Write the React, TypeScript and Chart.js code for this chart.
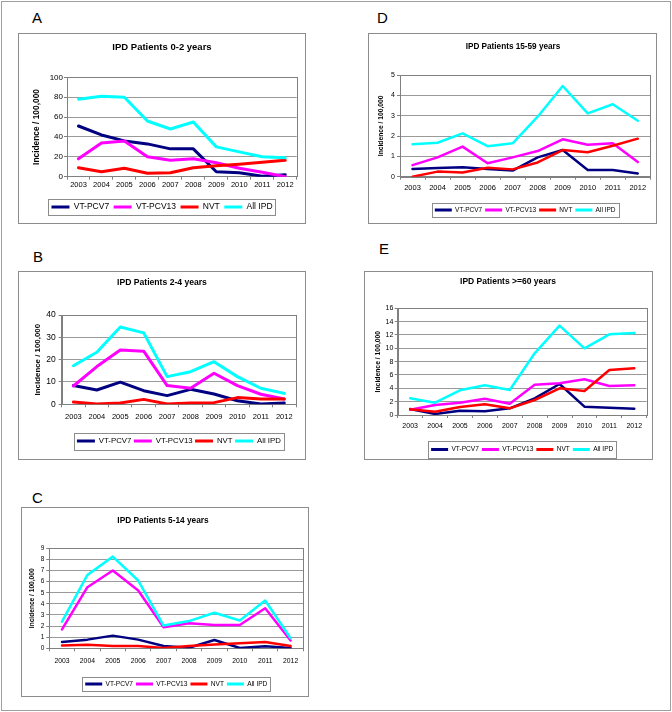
import React, { useEffect, useRef } from "react";
import { Chart, registerables } from "chart.js";

Chart.register(...registerables);

// ---------- data ----------
const YEARS = ["2003", "2004", "2005", "2006", "2007", "2008", "2009", "2010", "2011", "2012"];
const SERIES_NAMES = ["VT-PCV7", "VT-PCV13", "NVT", "All IPD"];
const SERIES_COLORS = ["#000080", "#FF00FF", "#FF0000", "#00FFFF"];
const Y_TITLE = "Incidence / 100,000";

// A: 0-2 years
const A_PCV7 = [51, 42, 36, 33, 28, 28, 5, 4, 0.5, 2];
const A_PCV13 = [18, 34, 36, 20, 16.5, 18, 14, 8.5, 4.5, 0];
const A_NVT = [9, 5, 8.5, 3.5, 4, 9, 11, 12.5, 14.5, 16.5];
const A_ALL = [78, 81, 80, 56, 48, 55, 30, 25, 20, 19];
const A_YTICKS = [0, 20, 40, 60, 80, 100];

// B: 2-4 years
const B_PCV7 = [8.4, 6.4, 9.9, 6.1, 3.9, 6.7, 4.6, 1.6, 0.15, 0.6];
const B_PCV13 = [8.2, 16.9, 24.3, 23.8, 8.4, 7.2, 13.9, 8.4, 4.5, 2.4];
const B_NVT = [1.0, 0.15, 0.6, 2.2, 0.15, 0.6, 0.75, 3.0, 2.4, 2.4];
const B_ALL = [17.3, 23.3, 34.6, 32, 12.4, 14.6, 19.1, 12.4, 7.2, 4.9];
const B_YTICKS = [0, 10, 20, 30, 40];

// C: 5-14 years
const C_PCV7 = [0.57, 0.78, 1.14, 0.78, 0.2, 0.05, 0.75, 0.03, 0.18, 0.03];
const C_PCV13 = [1.7, 5.5, 7.0, 5.2, 1.9, 2.25, 2.1, 2.1, 3.6, 0.7];
const C_NVT = [0.25, 0.33, 0.2, 0.2, 0.03, 0.2, 0.35, 0.45, 0.57, 0.2];
const C_ALL = [2.4, 6.6, 8.25, 6.1, 2.05, 2.45, 3.2, 2.5, 4.3, 0.9];
const C_YTICKS = [0, 1, 2, 3, 4, 5, 6, 7, 8, 9];

// D: 15-59 years
const D_PCV7 = [0.38, 0.43, 0.46, 0.38, 0.3, 0.95, 1.31, 0.33, 0.33, 0.16];
const D_PCV13 = [0.57, 0.95, 1.48, 0.66, 0.95, 1.26, 1.84, 1.57, 1.64, 0.72];
const D_NVT = [0.0, 0.25, 0.21, 0.44, 0.36, 0.7, 1.31, 1.2, 1.52, 1.87];
const D_ALL = [1.6, 1.67, 2.13, 1.5, 1.64, 2.95, 4.46, 3.11, 3.56, 2.75];
const D_YTICKS = [0, 1, 2, 3, 4, 5];

// E: >=60 years
const E_PCV7 = [0.9, 0.15, 0.65, 0.55, 1.0, 2.5, 4.65, 1.25, 1.1, 0.95];
const E_PCV13 = [0.8, 1.5, 1.85, 2.45, 1.7, 4.55, 4.75, 5.35, 4.35, 4.45];
const E_NVT = [0.85, 0.5, 1.2, 1.6, 1.0, 2.25, 4.0, 3.6, 6.75, 7.0];
const E_ALL = [2.5, 1.85, 3.7, 4.45, 3.75, 9.25, 13.4, 10, 12.1, 12.3];
const E_YTICKS = [0, 2, 4, 6, 8, 10, 12, 14, 16];

// ---------- layout ----------
const FONT = "'Liberation Sans', Arial, sans-serif";
const GRID = "#9a9a9a";
const AXIS = "#808080";
const FRAME = "#8c8c8c";
const EXTRA = 14;

type Cfg = {
  letter: string; letterX: number; letterY: number;
  box: number[]; plot: number[];
  title: string; titleY: number; titleCx: number; titleSize: number;
  yTitleX: number; yTitleSize: number;
  yTickSize: number; yTickPad: number;
  xTickSize: number; xTickPad: number;
  legendY: number; legendSize: number; legendPad: number; legendLine: number; legendFull: boolean; legendBoxH: number;
  lineWidth: number;
  yTicks: number[];
  series: number[][];
};

const PANELS: Cfg[] = [
  {
    letter: "A", letterX: 32, letterY: 12,
    box: [18, 33, 288, 191], plot: [67, 77.3, 296.7, 176.7],
    title: "IPD Patients 0-2 years", titleY: 47, titleCx: 162, titleSize: 9.5,
    yTitleX: 37, yTitleSize: 8.4, yTickSize: 8, yTickPad: 1, xTickSize: 7.5, xTickPad: 1,
    legendY: 207, legendSize: 8.5, legendPad: 4.5, legendLine: 18, legendFull: true, legendBoxH: 16,
    lineWidth: 3, yTicks: A_YTICKS, series: [A_PCV7, A_PCV13, A_NVT, A_ALL],
  },
  {
    letter: "B", letterX: 33, letterY: 251,
    box: [18, 271, 288, 189], plot: [61.7, 315, 296, 404.3],
    title: "IPD Patients 2-4 years", titleY: 283, titleCx: 162, titleSize: 8.6,
    yTitleX: 38, yTitleSize: 7.9, yTickSize: 8.5, yTickPad: 3, xTickSize: 7.5, xTickPad: 5.5,
    legendY: 441, legendSize: 7.8, legendPad: 2.5, legendLine: 18, legendFull: false, legendBoxH: 17,
    lineWidth: 3, yTicks: B_YTICKS, series: [B_PCV7, B_PCV13, B_NVT, B_ALL],
  },
  {
    letter: "C", letterX: 32, letterY: 492,
    box: [21, 507, 288, 190], plot: [49.3, 548.3, 303.3, 648.3],
    title: "IPD Patients 5-14 years", titleY: 521, titleCx: 163, titleSize: 8.3,
    yTitleX: 32, yTitleSize: 6.6, yTickSize: 6.5, yTickPad: 2, xTickSize: 6.8, xTickPad: 5.5,
    legendY: 684, legendSize: 6.6, legendPad: 3, legendLine: 17, legendFull: false, legendBoxH: 14,
    lineWidth: 2.5, yTicks: C_YTICKS, series: [C_PCV7, C_PCV13, C_NVT, C_ALL],
  },
  {
    letter: "D", letterX: 377, letterY: 12,
    box: [368, 33, 289, 191], plot: [400, 75, 650.3, 176.7],
    title: "IPD Patients 15-59 years", titleY: 47, titleCx: 513, titleSize: 8.2,
    yTitleX: 381, yTitleSize: 6.7, yTickSize: 7, yTickPad: 2, xTickSize: 7.5, xTickPad: 4,
    legendY: 210, legendSize: 6.5, legendPad: 3, legendLine: 17, legendFull: false, legendBoxH: 14,
    lineWidth: 2.5, yTicks: D_YTICKS, series: [D_PCV7, D_PCV13, D_NVT, D_ALL],
  },
  {
    letter: "E", letterX: 379, letterY: 243,
    box: [364, 271, 289, 189], plot: [397.7, 308.3, 646.7, 415],
    title: "IPD Patients >=60 years", titleY: 282, titleCx: 508, titleSize: 8.5,
    yTitleX: 378, yTitleSize: 6.8, yTickSize: 7, yTickPad: 1.3, xTickSize: 7, xTickPad: 4,
    legendY: 449.5, legendSize: 6.6, legendPad: 3, legendLine: 17, legendFull: false, legendBoxH: 17,
    lineWidth: 2.5, yTicks: E_YTICKS, series: [E_PCV7, E_PCV13, E_NVT, E_ALL],
  },
];

function Panel({ c }: { c: Cfg }) {
  const ref = useRef<HTMLCanvasElement | null>(null);
  const [bx, by, bw, bh] = c.box;
  const H = bh + EXTRA;

  useEffect(() => {
    if (!ref.current) return;
    const [pl, pt, pr, pb] = c.plot;
    const L = pl - bx, T = pt - by, R = bx + bw - pr, B = pb - by;
    const tLH = c.titleSize * 1.2;
    const tPadTop = c.titleY - by - tLH / 2;
    const tPadBottom = T - tPadTop - tLH;
    const padL = Math.max(0, Math.min(L - 10, 2 * (c.titleCx - bx) - bw + R));
    const yAxisW = L - padL;
    const yLH = c.yTitleSize * 1.2;
    const yTitlePad = Math.max(0, c.yTitleX - bx - padL - yLH / 2);
    const F = c.legendSize, P = c.legendPad;
    const Hx = c.legendY - by - B - P - F / 2;
    const legendH = F + P + 10;
    const padB = Math.max(0, H - B - Hx - legendH);
    const yt = c.yTicks;

    const decor = {
      id: "decor",
      beforeDraw(chart: any) {
        const ctx = chart.ctx;
        ctx.save();
        ctx.strokeStyle = FRAME;
        ctx.lineWidth = 1;
        ctx.strokeRect(0.5, 0.5, bw - 1, bh - 1);
        ctx.restore();
      },
      beforeDatasetsDraw(chart: any) {
        const a = chart.chartArea;
        const ctx = chart.ctx;
        ctx.save();
        ctx.strokeStyle = AXIS;
        ctx.lineWidth = 1;
        ctx.strokeRect(Math.round(a.left) + 0.5, Math.round(a.top) + 0.5, Math.round(a.right - a.left), Math.round(a.bottom - a.top));
        ctx.restore();
      },
      afterDraw(chart: any) {
        const lg = chart.legend;
        if (!lg || !lg.legendHitBoxes || !lg.legendHitBoxes.length) return;
        const hb = lg.legendHitBoxes;
        const left = Math.min(...hb.map((h: any) => h.left)) - 3;
        const right = Math.max(...hb.map((h: any) => h.left + h.width)) + 3;
        const cy = hb[0].top + hb[0].height / 2;
        const ctx = chart.ctx;
        ctx.save();
        ctx.strokeStyle = FRAME;
        ctx.lineWidth = 1;
        ctx.strokeRect(Math.round(left) + 0.5, Math.round(cy - c.legendBoxH / 2) + 0.5, Math.round(right - left), c.legendBoxH);
        ctx.restore();
      },
    };

    const chart = new Chart(ref.current, {
      type: "line",
      data: {
        labels: YEARS,
        datasets: SERIES_NAMES.map((name, i) => ({
          label: name,
          data: c.series[i],
          borderColor: SERIES_COLORS[i],
          backgroundColor: SERIES_COLORS[i],
          borderWidth: c.lineWidth,
          pointRadius: 0,
          pointHoverRadius: 0,
          tension: 0,
          fill: false,
          borderJoinStyle: "round" as const,
          borderCapStyle: "round" as const,
          order: 4 - i,
        })),
      },
      options: {
        animation: false,
        responsive: false,
        devicePixelRatio: 1,
        events: [],
        layout: { padding: { left: padL, right: R, top: 0, bottom: padB } },
        plugins: {
          tooltip: { enabled: false },
          title: {
            display: true,
            text: c.title,
            color: "#000",
            font: { family: FONT, size: c.titleSize, weight: "bold" },
            padding: { top: tPadTop, bottom: tPadBottom },
          },
          legend: {
            display: true,
            position: "bottom",
            fullSize: c.legendFull,
            labels: {
              boxWidth: c.legendLine,
              boxHeight: 3,
              padding: P,
              color: "#000",
              font: { family: FONT, size: F },
              generateLabels: (ch: any) =>
                ch.data.datasets.map((d: any, i: number) => ({
                  text: d.label,
                  fillStyle: d.borderColor,
                  strokeStyle: d.borderColor,
                  lineWidth: 0,
                  hidden: false,
                  datasetIndex: i,
                })),
            },
          },
        },
        scales: {
          x: {
            type: "category",
            offset: true,
            grid: { display: true, drawOnChartArea: false, drawTicks: true, tickLength: 3, offset: true, color: AXIS },
            border: { display: true, color: AXIS },
            ticks: { color: "#000", font: { family: FONT, size: c.xTickSize }, padding: c.xTickPad, maxRotation: 0, minRotation: 0, autoSkip: false },
            afterFit: (s: any) => { s.height = Hx; },
          },
          y: {
            min: yt[0],
            max: yt[yt.length - 1],
            ticks: { stepSize: yt[1] - yt[0], color: "#000", font: { family: FONT, size: c.yTickSize }, padding: c.yTickPad },
            grid: { color: GRID, drawTicks: true, tickLength: 3, tickColor: AXIS },
            border: { display: true, color: AXIS },
            title: {
              display: true,
              text: Y_TITLE,
              color: "#000",
              font: { family: FONT, size: c.yTitleSize, weight: "bold" },
              padding: { top: yTitlePad, bottom: 0 },
            },
            afterFit: (s: any) => { s.width = yAxisW; },
          },
        },
      } as any,
      plugins: [decor],
    });
    return () => chart.destroy();
  }, [c]);

  return (
    <>
      <div
        style={{
          position: "absolute",
          left: c.letterX,
          top: c.letterY - 3,
          fontFamily: FONT,
          fontSize: 15,
          lineHeight: "normal",
          color: "#000",
        }}
      >
        {c.letter}
      </div>
      <canvas
        ref={ref}
        width={bw}
        height={H}
        style={{ position: "absolute", left: bx, top: by, width: bw, height: H }}
      />
    </>
  );
}

export default function App() {
  return (
    <div style={{ position: "absolute", left: 0, top: 0, width: 672, height: 712, background: "#fff" }}>
      <div
        style={{
          position: "absolute",
          left: 1,
          top: 1,
          width: 668,
          height: 708,
          border: "1px solid #a0a0a0",
        }}
      />
      {PANELS.map((p) => (
        <Panel key={p.letter} c={p} />
      ))}
    </div>
  );
}
